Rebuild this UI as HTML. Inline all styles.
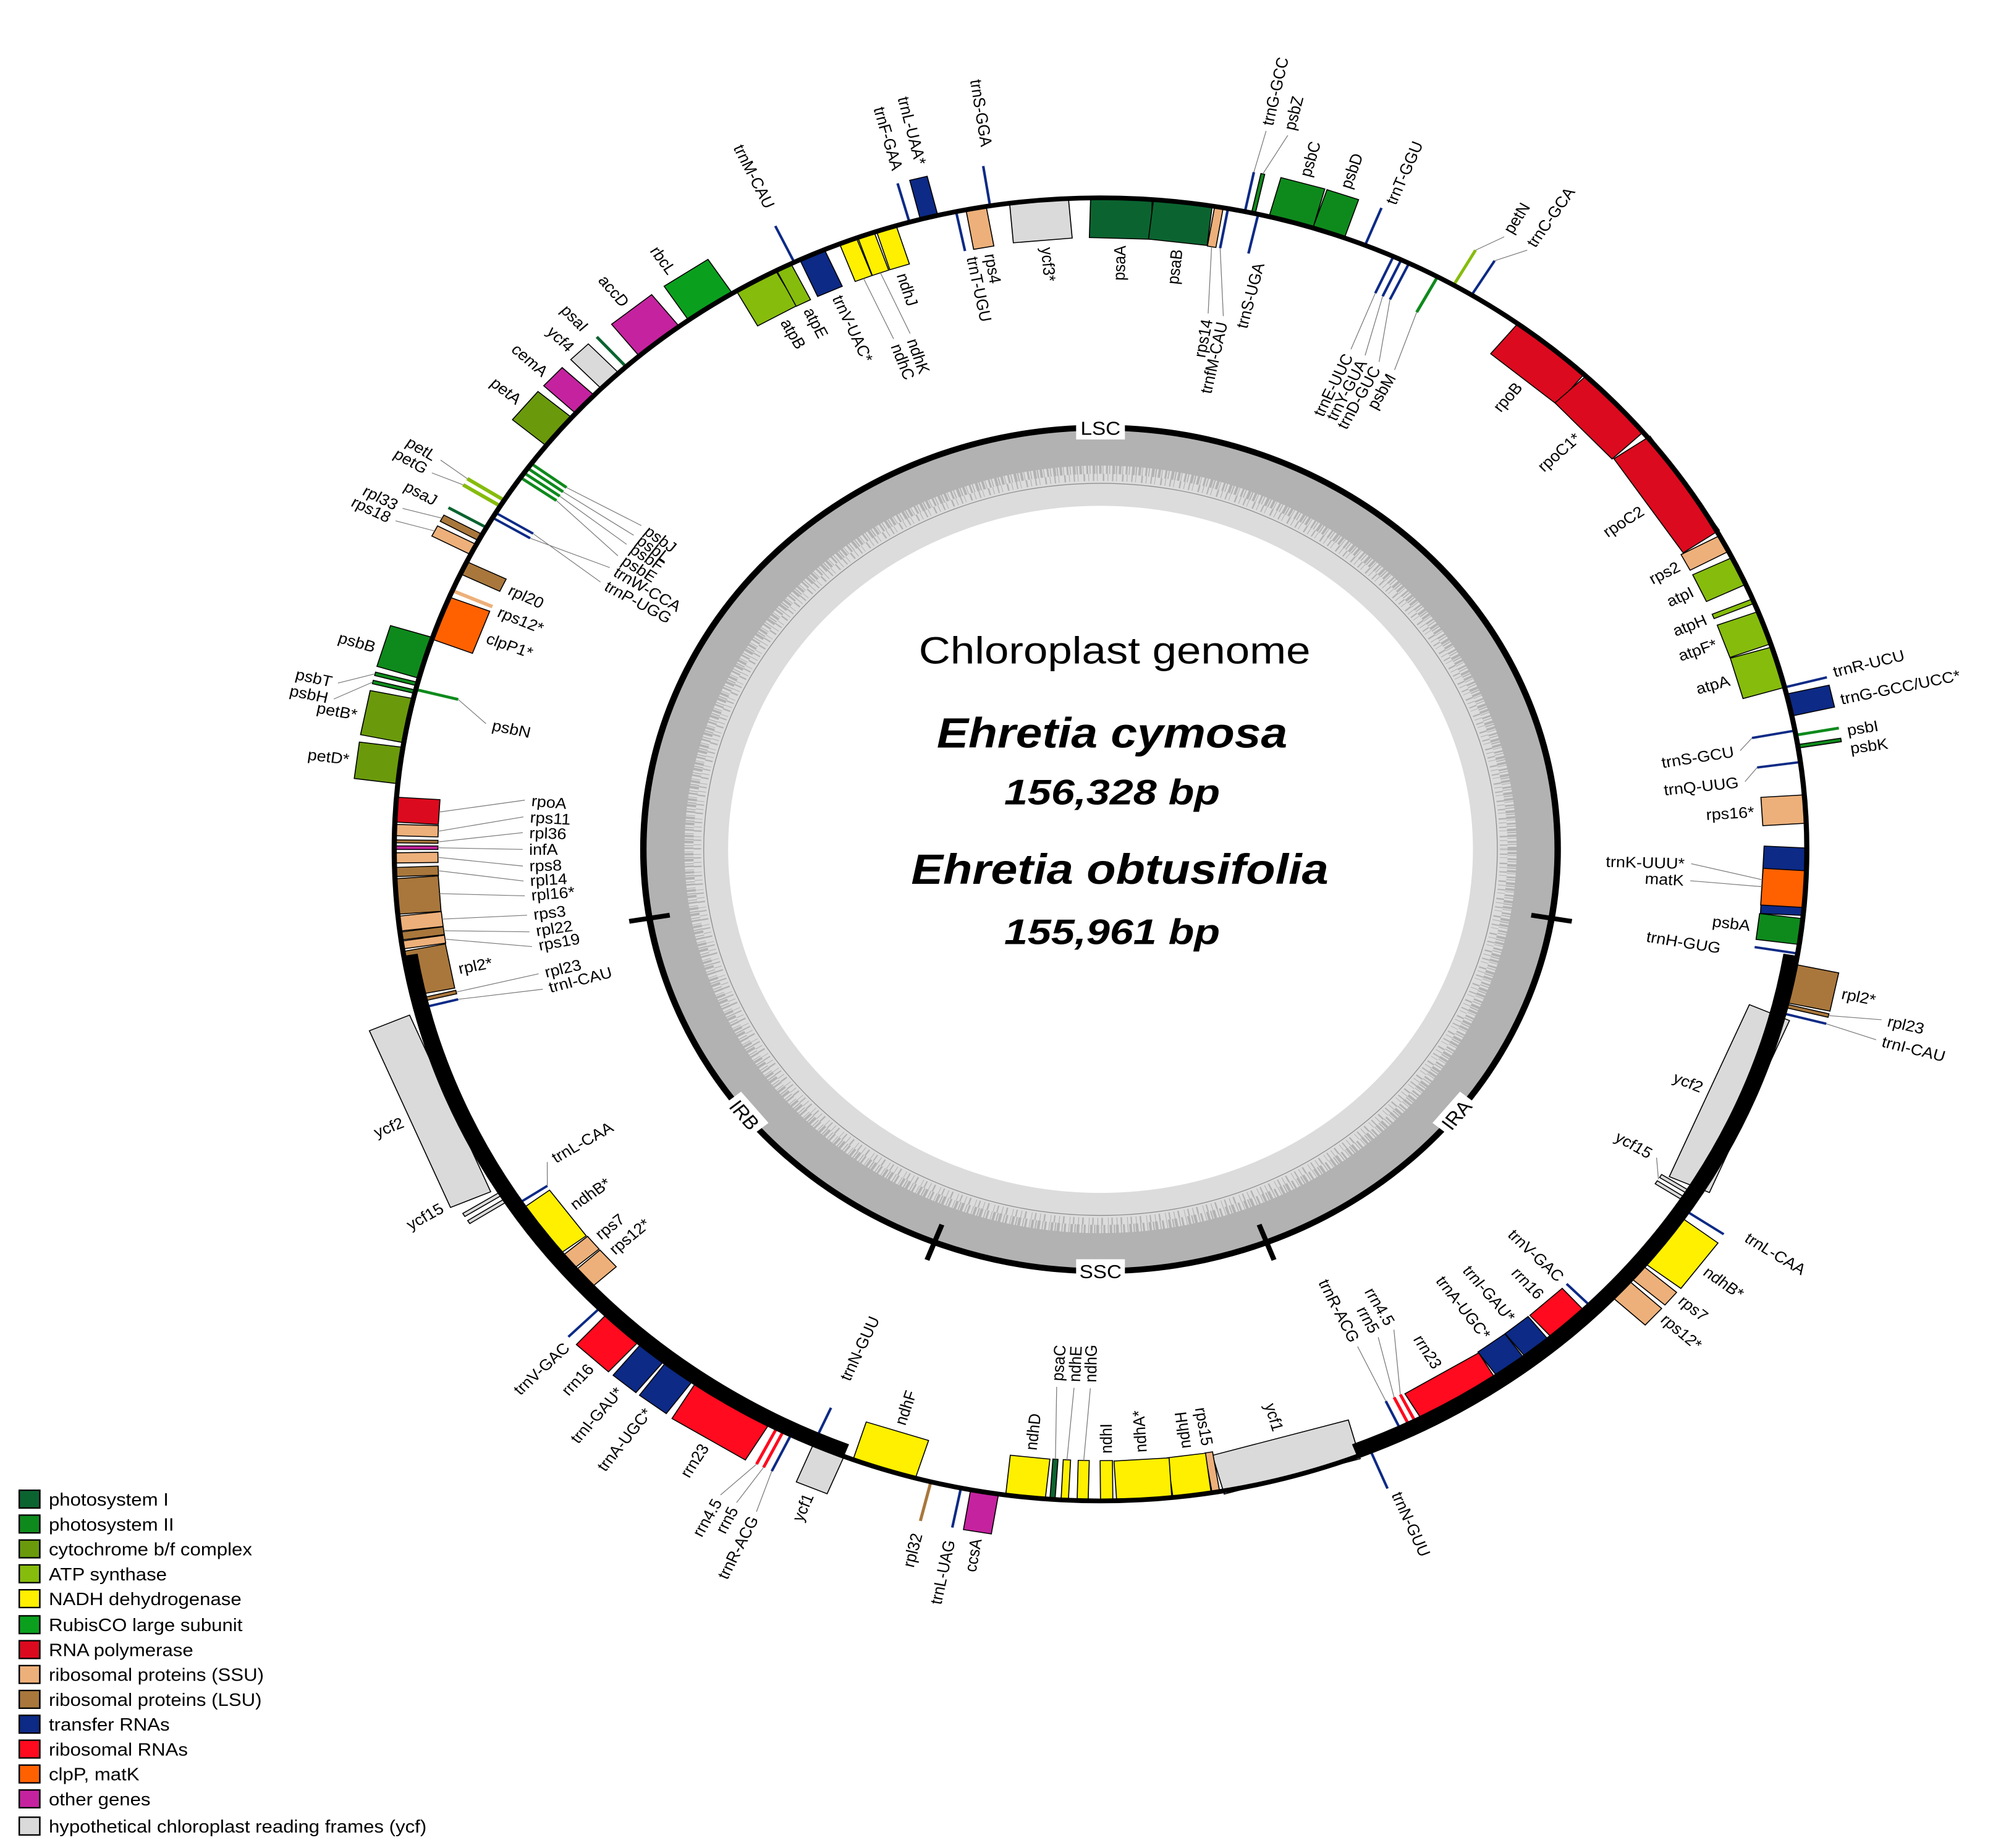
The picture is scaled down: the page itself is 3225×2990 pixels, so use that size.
<!DOCTYPE html>
<html><head><meta charset="utf-8"><style>
html,body{margin:0;padding:0;background:#fff}
svg{display:block}
text{font-family:"Liberation Sans",sans-serif}
.L text{font-size:13px;dominant-baseline:central}
.s{text-anchor:start}.e{text-anchor:end}
.b rect{stroke:#000;stroke-width:.8}
.ld line{stroke:#777;stroke-width:.6}
.p1{fill:#0b6430}.p2{fill:#0e8a1c}.cy{fill:#6a9a0b}.at{fill:#86bc0c}.nd{fill:#fff000}.rb{fill:#0aa01e}
.rp{fill:#dc0a1e}.ss{fill:#edb07a}.ls{fill:#a9773c}.tr{fill:#0c2a86}.rr{fill:#ff0a1e}.cl{fill:#ff6100}.ot{fill:#c5229f}.yc{fill:#dadada}
</style></head><body>
<svg width="3225" height="2990" viewBox="0 0 1552 1560" preserveAspectRatio="none" xmlns="http://www.w3.org/2000/svg">
<rect width="1552" height="1560" fill="#fff"/>
<g transform="translate(857,717)">
<!-- inner GC ring -->
<circle r="323" fill="none" stroke="#dcdcdc" stroke-width="66"/>
<circle r="340" fill="none" stroke="#b2b2b2" stroke-width="32"/>
<circle r="321" fill="none" stroke="#b2b2b2" stroke-width="8" stroke-dasharray="1 1.2 2 0.8 0.6 2 1.5 1 0.8 1.6 2.2 0.7"/>
<circle r="314" fill="none" stroke="#b2b2b2" stroke-width="6" stroke-dasharray="0.6 3 1 2.2 0.5 4 1.2 2.5"/>
<circle r="309" fill="none" stroke="#888" stroke-width="0.6"/>
<circle r="356" fill="none" stroke="#000" stroke-width="5"/>
<g stroke="#000" stroke-width="4">
<line transform="rotate(99.4)" x1="0" y1="-340" x2="0" y2="-372"/>
<line transform="rotate(158.7)" x1="0" y1="-340" x2="0" y2="-372"/>
<line transform="rotate(201.3)" x1="0" y1="-340" x2="0" y2="-372"/>
<line transform="rotate(260.6)" x1="0" y1="-340" x2="0" y2="-372"/>
</g>
</g>
<g font-size="16" text-anchor="middle">
<rect x="838" y="351" width="38" height="20" fill="#fff"/><text x="857" y="367">LSC</text>
<rect x="838" y="1063" width="38" height="20" fill="#fff"/><text x="857" y="1079">SSC</text>
<g transform="translate(1134,941) rotate(-51)"><rect x="-17" y="-10" width="34" height="20" fill="#fff"/><text y="6">IRA</text></g>
<g transform="translate(580,941) rotate(51)"><rect x="-17" y="-10" width="34" height="20" fill="#fff"/><text y="6">IRB</text></g>
</g>
<text x="868" y="560" font-size="32" text-anchor="middle" textLength="305" lengthAdjust="spacingAndGlyphs">Chloroplast genome</text>
<text x="866" y="631" font-size="36" font-weight="bold" font-style="italic" text-anchor="middle" textLength="273" lengthAdjust="spacingAndGlyphs">Ehretia cymosa</text>
<text x="866" y="679" font-size="30" font-weight="bold" font-style="italic" text-anchor="middle" textLength="168" lengthAdjust="spacingAndGlyphs">156,328 bp</text>
<text x="872" y="746" font-size="36" font-weight="bold" font-style="italic" text-anchor="middle" textLength="325" lengthAdjust="spacingAndGlyphs">Ehretia obtusifolia</text>
<text x="866" y="797" font-size="30" font-weight="bold" font-style="italic" text-anchor="middle" textLength="168" lengthAdjust="spacingAndGlyphs">155,961 bp</text>

<g transform="translate(857,717)">
<!-- gene boxes -->
<g class="b">
<rect class="p1" transform="rotate(1.7)" x="-24" y="-550" width="48" height="34"/>
<rect class="p1" transform="rotate(6.7)" x="-23" y="-550" width="46" height="34"/>
<rect class="ss" transform="rotate(9.65)" x="-3.3" y="-550" width="6.7" height="34"/>
<rect class="p2" transform="rotate(12.5)" x="-1.5" y="-584" width="3" height="34"/>
<rect class="p2" transform="rotate(15.65)" x="-17.7" y="-584" width="35.5" height="34"/>
<rect class="p2" transform="rotate(18.85)" x="-13" y="-584" width="26" height="34"/>
<rect class="rp" transform="rotate(39.7)" x="-33.5" y="-550" width="67" height="34"/>
<rect class="rp" transform="rotate(46.8)" x="-32.5" y="-550" width="65" height="34"/>
<rect class="rp" transform="rotate(55.8)" x="-48" y="-550" width="96" height="34"/>
<rect class="ss" transform="rotate(62)" x="-7.5" y="-550" width="15" height="34"/>
<rect class="at" transform="rotate(64.7)" x="-12.5" y="-550" width="25" height="34"/>
<rect class="at" transform="rotate(67.6)" x="-2" y="-550" width="4" height="34"/>
<rect class="at" transform="rotate(70.1)" x="-14.5" y="-550" width="29" height="34"/>
<rect class="at" transform="rotate(73.75)" x="-17.7" y="-550" width="35.5" height="34"/>
<rect class="tr" transform="rotate(77.2)" x="-9.5" y="-584" width="19" height="34"/>
<rect class="p2" transform="rotate(80.9)" x="-1.5" y="-584" width="3" height="34"/>
<rect class="ss" transform="rotate(86.45)" x="-12" y="-550" width="24" height="34"/>
<rect class="tr" transform="rotate(92.85)" x="-28.5" y="-550" width="57" height="34"/>
<rect class="cl" transform="rotate(93.5)" x="-15.5" y="-550" width="31" height="34"/>
<rect class="p2" transform="rotate(97.25)" x="-11" y="-550" width="22" height="34"/>
<rect class="ls" transform="rotate(101.9)" x="-16.5" y="-584" width="33" height="34"/>
<rect class="ls" transform="rotate(103.9)" x="-1.5" y="-584" width="3" height="34"/>
<rect class="yc" transform="rotate(113.25)" x="-79" y="-550" width="158" height="34"/>
<rect class="yc" transform="rotate(122.3)" x="-1.5" y="-550" width="3" height="34"/>
<rect class="yc" transform="rotate(123)" x="-1.5" y="-550" width="3" height="34"/>
<rect class="nd" transform="rotate(127)" x="-24" y="-584" width="48" height="34"/>
<rect class="ss" transform="rotate(130.5)" x="-7" y="-584" width="14" height="34"/>
<rect class="ss" transform="rotate(132.5)" x="-9.5" y="-584" width="19" height="34"/>
<rect class="rr" transform="rotate(137.75)" x="-17" y="-550" width="34" height="34"/>
<rect class="tr" transform="rotate(141.1)" x="-11.5" y="-550" width="23" height="34"/>
<rect class="tr" transform="rotate(143.85)" x="-13" y="-550" width="26" height="34"/>
<rect class="rr" transform="rotate(149)" x="-33.5" y="-550" width="67" height="34"/>
<rect class="yc" transform="rotate(164.25)" x="-55" y="-550" width="110" height="34"/>
<rect class="ss" transform="rotate(170.6)" x="-3" y="-550" width="6" height="34"/>
<rect class="nd" transform="rotate(172.55)" x="-15" y="-550" width="30" height="34"/>
<rect class="nd" transform="rotate(176.45)" x="-21.5" y="-550" width="43" height="34"/>
<rect class="nd" transform="rotate(179.5)" x="-4.8" y="-550" width="9.6" height="34"/>
<rect class="nd" transform="rotate(181.45)" x="-4.3" y="-550" width="8.6" height="34"/>
<rect class="nd" transform="rotate(182.9)" x="-2.8" y="-550" width="5.7" height="34"/>
<rect class="p1" transform="rotate(183.9)" x="-2" y="-550" width="4" height="34"/>
<rect class="nd" transform="rotate(186.1)" x="-15.5" y="-550" width="31" height="34"/>
<rect class="ot" transform="rotate(189.45)" x="-11" y="-584" width="22" height="34"/>
<rect class="nd" transform="rotate(197.85)" x="-25.5" y="-550" width="51" height="34"/>
<rect class="yc" transform="rotate(202.65)" x="-13" y="-584" width="26" height="34"/>
<rect class="rr" transform="rotate(211.5)" x="-33.5" y="-584" width="67" height="34"/>
<rect class="tr" transform="rotate(216.65)" x="-13" y="-584" width="26" height="34"/>
<rect class="tr" transform="rotate(219.4)" x="-11.5" y="-584" width="23" height="34"/>
<rect class="rr" transform="rotate(222.65)" x="-17" y="-584" width="34" height="34"/>
<rect class="ss" transform="rotate(228)" x="-9.5" y="-550" width="19" height="34"/>
<rect class="ss" transform="rotate(229.95)" x="-7" y="-550" width="14" height="34"/>
<rect class="nd" transform="rotate(233.5)" x="-24" y="-550" width="48" height="34"/>
<rect class="yc" transform="rotate(237.4)" x="-1.5" y="-584" width="3" height="34"/>
<rect class="yc" transform="rotate(238.1)" x="-1.5" y="-584" width="3" height="34"/>
<rect class="yc" transform="rotate(247.05)" x="-81" y="-584" width="162" height="34"/>
<rect class="ls" transform="rotate(256.5)" x="-1.5" y="-550" width="3" height="34"/>
<rect class="ls" transform="rotate(259)" x="-19" y="-550" width="38" height="34"/>
<rect class="ss" transform="rotate(261.55)" x="-3.3" y="-550" width="6.7" height="34"/>
<rect class="ls" transform="rotate(262.35)" x="-3.3" y="-550" width="6.7" height="34"/>
<rect class="ss" transform="rotate(263.45)" x="-6.2" y="-550" width="12.5" height="34"/>
<rect class="ls" transform="rotate(265.85)" x="-15" y="-550" width="30" height="34"/>
<rect class="ls" transform="rotate(268)" x="-3.8" y="-550" width="7.7" height="34"/>
<rect class="ss" transform="rotate(269.25)" x="-4.3" y="-550" width="8.6" height="34"/>
<rect class="ot" transform="rotate(270.15)" x="-1.5" y="-550" width="3" height="34"/>
<rect class="ls" transform="rotate(270.7)" x="-1.2" y="-550" width="2.5" height="34"/>
<rect class="ss" transform="rotate(271.7)" x="-4.8" y="-550" width="9.6" height="34"/>
<rect class="rp" transform="rotate(273.5)" x="-10.5" y="-550" width="21" height="34"/>
<rect class="cy" transform="rotate(277.4)" x="-15.5" y="-584" width="31" height="34"/>
<rect class="cy" transform="rotate(281.4)" x="-19" y="-584" width="38" height="34"/>
<rect class="p2" transform="rotate(284)" x="-1.5" y="-584" width="3" height="34"/>
<rect class="p2" transform="rotate(284.7)" x="-1.5" y="-584" width="3" height="34"/>
<rect class="p2" transform="rotate(287.1)" x="-18" y="-584" width="36" height="34"/>
<rect class="cl" transform="rotate(290.8)" x="-19" y="-550" width="38" height="34"/>
<rect class="ls" transform="rotate(295.6)" x="-5.7" y="-550" width="11.5" height="34"/>
<rect class="ss" transform="rotate(297.4)" x="-4.8" y="-584" width="9.6" height="34"/>
<rect class="ls" transform="rotate(298.6)" x="-3" y="-584" width="6" height="34"/>
<rect class="cy" transform="rotate(309.9)" x="-15.5" y="-584" width="31" height="34"/>
<rect class="ot" transform="rotate(313.1)" x="-10.5" y="-584" width="21" height="34"/>
<rect class="yc" transform="rotate(316)" x="-9.5" y="-584" width="19" height="34"/>
<rect class="ot" transform="rotate(321.3)" x="-20" y="-584" width="40" height="34"/>
<rect class="rb" transform="rotate(326.45)" x="-20.5" y="-584" width="41" height="34"/>
<rect class="at" transform="rotate(330.8)" x="-17.5" y="-550" width="35" height="34"/>
<rect class="at" transform="rotate(333.35)" x="-6.2" y="-550" width="12.5" height="34"/>
<rect class="tr" transform="rotate(335.9)" x="-10.5" y="-550" width="21" height="34"/>
<rect class="nd" transform="rotate(339.05)" x="-7" y="-550" width="14" height="34"/>
<rect class="nd" transform="rotate(340.6)" x="-6.7" y="-550" width="13.5" height="34"/>
<rect class="nd" transform="rotate(342.35)" x="-8" y="-550" width="16" height="34"/>
<rect class="tr" transform="rotate(345.95)" x="-7" y="-584" width="14" height="34"/>
<rect class="ss" transform="rotate(349.85)" x="-8" y="-550" width="16" height="34"/>
<rect class="yc" transform="rotate(355)" x="-23" y="-550" width="46" height="34"/>
</g>
<!-- thin line genes -->
<g>
<rect class="tr" transform="rotate(10.4)" x="-1" y="-550" width="2" height="34"/>
<rect class="tr" transform="rotate(12.9)" x="-1" y="-550" width="2" height="34"/>
<rect class="tr" transform="rotate(11.8)" x="-1" y="-584" width="2" height="34"/>
<rect class="tr" transform="rotate(22)" x="-1" y="-584" width="2" height="34"/>
<rect class="tr" transform="rotate(24.5)" x="-1" y="-550" width="2" height="34"/>
<rect class="tr" transform="rotate(25.2)" x="-1" y="-550" width="2" height="34"/>
<rect class="tr" transform="rotate(25.9)" x="-1" y="-550" width="2" height="34"/>
<rect class="p2" transform="rotate(28.5)" x="-1.2" y="-550" width="2.4" height="34"/>
<rect class="at" transform="rotate(30)" x="-1.2" y="-584" width="2.4" height="34"/>
<rect class="tr" transform="rotate(31.7)" x="-1" y="-584" width="2" height="34"/>
<rect class="tr" transform="rotate(75.6)" x="-1" y="-584" width="2" height="34"/>
<rect class="tr" transform="rotate(79.5)" x="-1" y="-550" width="2" height="34"/>
<rect class="p2" transform="rotate(79.9)" x="-1.2" y="-584" width="2.4" height="34"/>
<rect class="tr" transform="rotate(82.3)" x="-1" y="-550" width="2" height="34"/>
<rect class="tr" transform="rotate(99.2)" x="-1" y="-550" width="2" height="34"/>
<rect class="tr" transform="rotate(104.6)" x="-1" y="-584" width="2" height="34"/>
<rect class="tr" transform="rotate(123.8)" x="-1" y="-584" width="2" height="34"/>
<rect class="tr" transform="rotate(135.3)" x="-1" y="-550" width="2" height="34"/>
<rect class="rr" transform="rotate(153.1)" x="-1.2" y="-550" width="2.4" height="34"/>
<rect class="rr" transform="rotate(153.7)" x="-1.2" y="-550" width="2.4" height="34"/>
<rect class="tr" transform="rotate(154.5)" x="-1" y="-550" width="2" height="34"/>
<rect class="tr" transform="rotate(157.5)" x="-1" y="-584" width="2" height="34"/>
<rect class="tr" transform="rotate(191.4)" x="-1" y="-584" width="2" height="34"/>
<rect class="ls" transform="rotate(193.9)" x="-1.2" y="-584" width="2.4" height="34"/>
<rect class="tr" transform="rotate(204)" x="-1" y="-550" width="2" height="34"/>
<rect class="tr" transform="rotate(206)" x="-1" y="-584" width="2" height="34"/>
<rect class="rr" transform="rotate(206.7)" x="-1.2" y="-584" width="2.4" height="34"/>
<rect class="rr" transform="rotate(207.3)" x="-1.2" y="-584" width="2.4" height="34"/>
<rect class="tr" transform="rotate(225.2)" x="-1" y="-584" width="2" height="34"/>
<rect class="tr" transform="rotate(236.6)" x="-1" y="-550" width="2" height="34"/>
<rect class="tr" transform="rotate(255.8)" x="-1" y="-550" width="2" height="34"/>
<rect class="p2" transform="rotate(284.2)" x="-1.2" y="-550" width="2.4" height="34"/>
<rect class="ss" transform="rotate(293.4)" x="-1.5" y="-550" width="3" height="34"/>
<rect class="p1" transform="rotate(299.6)" x="-1.2" y="-584" width="2.4" height="34"/>
<rect class="tr" transform="rotate(300.6)" x="-1" y="-550" width="2" height="34"/>
<rect class="tr" transform="rotate(301.1)" x="-1" y="-550" width="2" height="34"/>
<rect class="at" transform="rotate(301.8)" x="-1.5" y="-584" width="3" height="34"/>
<rect class="at" transform="rotate(302.4)" x="-1.5" y="-584" width="3" height="34"/>
<rect class="p2" transform="rotate(304.8)" x="-1.2" y="-550" width="2.4" height="34"/>
<rect class="p2" transform="rotate(305.3)" x="-1.2" y="-550" width="2.4" height="34"/>
<rect class="p2" transform="rotate(305.8)" x="-1.2" y="-550" width="2.4" height="34"/>
<rect class="p2" transform="rotate(306.3)" x="-1.2" y="-550" width="2.4" height="34"/>
<rect class="p1" transform="rotate(317.8)" x="-1.2" y="-584" width="2.4" height="34"/>
<rect class="tr" transform="rotate(334.3)" x="-1" y="-584" width="2" height="34"/>
<rect class="tr" transform="rotate(344.3)" x="-1" y="-584" width="2" height="34"/>
<rect class="tr" transform="rotate(348.2)" x="-1" y="-550" width="2" height="34"/>
<rect class="tr" transform="rotate(351)" x="-1" y="-584" width="2" height="34"/>
</g>
<!-- leaders -->
<g class="ld">
<line transform="rotate(9.65)" x1="0" y1="-516" x2="6.8" y2="-460"/>
<line transform="rotate(10.4)" x1="0" y1="-516" x2="12.8" y2="-460"/>
<line transform="rotate(11.8)" x1="0" y1="-584" x2="2.2" y2="-620"/>
<line transform="rotate(12.5)" x1="0" y1="-584" x2="11.9" y2="-620"/>
<line transform="rotate(24.5)" x1="0" y1="-516" x2="2.4" y2="-465"/>
<line transform="rotate(25.2)" x1="0" y1="-516" x2="8.9" y2="-465"/>
<line transform="rotate(25.9)" x1="0" y1="-516" x2="15.4" y2="-465"/>
<line transform="rotate(28.5)" x1="0" y1="-516" x2="8.1" y2="-465"/>
<line transform="rotate(30)" x1="0" y1="-584" x2="13.7" y2="-605"/>
<line transform="rotate(31.7)" x1="0" y1="-584" x2="16.9" y2="-605"/>
<line transform="rotate(79.5)" x1="0" y1="-516" x2="8.8" y2="-505"/>
<line transform="rotate(82.3)" x1="0" y1="-516" x2="10.6" y2="-505"/>
<line transform="rotate(92.85)" x1="0" y1="-516" x2="-10.8" y2="-460"/>
<line transform="rotate(93.5)" x1="0" y1="-516" x2="-1.6" y2="-460"/>
<line transform="rotate(103.9)" x1="0" y1="-584" x2="-6.5" y2="-625"/>
<line transform="rotate(104.6)" x1="0" y1="-584" x2="3.3" y2="-625"/>
<line transform="rotate(122.65)" x1="0" y1="-516" x2="-14.5" y2="-505"/>
<line transform="rotate(153.1)" x1="0" y1="-516" x2="-20.3" y2="-465"/>
<line transform="rotate(153.7)" x1="0" y1="-516" x2="-11.4" y2="-465"/>
<line transform="rotate(154.5)" x1="0" y1="-516" x2="0" y2="-465"/>
<line transform="rotate(181.45)" x1="0" y1="-516" x2="-3.6" y2="-455"/>
<line transform="rotate(182.9)" x1="0" y1="-516" x2="-2.4" y2="-455"/>
<line transform="rotate(183.9)" x1="0" y1="-516" x2="3.2" y2="-455"/>
<line transform="rotate(206)" x1="0" y1="-584" x2="-4.3" y2="-620"/>
<line transform="rotate(206.7)" x1="0" y1="-584" x2="5.4" y2="-620"/>
<line transform="rotate(207.3)" x1="0" y1="-584" x2="13" y2="-620"/>
<line transform="rotate(236.6)" x1="0" y1="-516" x2="16.8" y2="-505"/>
<line transform="rotate(255.8)" x1="0" y1="-516" x2="-7.9" y2="-450"/>
<line transform="rotate(256.5)" x1="0" y1="-516" x2="0" y2="-450"/>
<line transform="rotate(261.55)" x1="0" y1="-516" x2="-16.1" y2="-450"/>
<line transform="rotate(262.35)" x1="0" y1="-516" x2="-9.8" y2="-450"/>
<line transform="rotate(263.45)" x1="0" y1="-516" x2="-4.3" y2="-450"/>
<line transform="rotate(265.85)" x1="0" y1="-516" x2="-6.7" y2="-450"/>
<line transform="rotate(268)" x1="0" y1="-516" x2="-11" y2="-450"/>
<line transform="rotate(269.25)" x1="0" y1="-516" x2="-8.2" y2="-450"/>
<line transform="rotate(270.15)" x1="0" y1="-516" x2="-1.2" y2="-450"/>
<line transform="rotate(270.7)" x1="0" y1="-516" x2="8.6" y2="-450"/>
<line transform="rotate(271.7)" x1="0" y1="-516" x2="14.1" y2="-450"/>
<line transform="rotate(273.5)" x1="0" y1="-516" x2="14.1" y2="-450"/>
<line transform="rotate(284)" x1="0" y1="-584" x2="-21.3" y2="-610"/>
<line transform="rotate(284.7)" x1="0" y1="-584" x2="-14.9" y2="-610"/>
<line transform="rotate(284.2)" x1="0" y1="-516" x2="-14.5" y2="-490"/>
<line transform="rotate(297.4)" x1="0" y1="-584" x2="-6.4" y2="-615"/>
<line transform="rotate(298.6)" x1="0" y1="-584" x2="-7.5" y2="-615"/>
<line transform="rotate(300.6)" x1="0" y1="-516" x2="10.2" y2="-450"/>
<line transform="rotate(301.1)" x1="0" y1="-516" x2="-7.9" y2="-450"/>
<line transform="rotate(301.8)" x1="0" y1="-584" x2="-4.3" y2="-610"/>
<line transform="rotate(302.4)" x1="0" y1="-584" x2="2.1" y2="-610"/>
<line transform="rotate(304.8)" x1="0" y1="-516" x2="-11" y2="-450"/>
<line transform="rotate(305.3)" x1="0" y1="-516" x2="-3.1" y2="-450"/>
<line transform="rotate(305.8)" x1="0" y1="-516" x2="2.4" y2="-450"/>
<line transform="rotate(306.3)" x1="0" y1="-516" x2="8.6" y2="-450"/>
<line transform="rotate(339.05)" x1="0" y1="-516" x2="3.6" y2="-460"/>
<line transform="rotate(340.6)" x1="0" y1="-516" x2="4.8" y2="-460"/>
</g>
<!-- outer ring -->
<circle r="550" fill="none" stroke="#000" stroke-width="4"/>
<path d="M537.7,89 A545,545 0 0 1 198,507.8 M-198,507.8 A545,545 0 0 1 -537.7,89" fill="none" stroke="#000" stroke-width="12"/>

<!-- labels -->
<g class="L">
<!-- right rule: rotate(-90); out=start, in=end -->
<text class="e" transform="rotate(1.7) translate(0,-510) rotate(-90)">psaA</text>
<text class="e" transform="rotate(6.7) translate(0,-510) rotate(-90)">psaB</text>
<text class="e" transform="rotate(10.5) translate(0,-455) rotate(-90)">rps14</text>
<text class="e" transform="rotate(12) translate(0,-455) rotate(-90)">trnfM-CAU</text>
<text class="e" transform="rotate(14) translate(0,-510) rotate(-90)">trnS-UGA</text>
<text class="s" transform="rotate(12) translate(0,-625) rotate(-90)">trnG-GCC</text>
<text class="s" transform="rotate(13.6) translate(0,-625) rotate(-90)">psbZ</text>
<text class="s" transform="rotate(15.65) translate(0,-590) rotate(-90)">psbC</text>
<text class="s" transform="rotate(18.85) translate(0,-590) rotate(-90)">psbD</text>
<text class="s" transform="rotate(22.5) translate(0,-590) rotate(-90)">trnT-GGU</text>
<text class="e" transform="rotate(24.8) translate(0,-460) rotate(-90)">trnE-UUC</text>
<text class="e" transform="rotate(26.3) translate(0,-460) rotate(-90)">trnY-GUA</text>
<text class="e" transform="rotate(27.8) translate(0,-460) rotate(-90)">trnD-GUC</text>
<text class="e" transform="rotate(29.5) translate(0,-460) rotate(-90)">psbM</text>
<text class="s" transform="rotate(31.3) translate(0,-610) rotate(-90)">petN</text>
<text class="s" transform="rotate(33.3) translate(0,-610) rotate(-90)">trnC-GCA</text>
<text class="e" transform="rotate(39.7) translate(0,-510) rotate(-90)">rpoB</text>
<text class="e" transform="rotate(46.8) translate(0,-510) rotate(-90)">rpoC1*</text>
<text class="e" transform="rotate(55.8) translate(0,-510) rotate(-90)">rpoC2</text>
<text class="e" transform="rotate(62) translate(0,-510) rotate(-90)">rps2</text>
<text class="e" transform="rotate(64.7) translate(0,-510) rotate(-90)">atpI</text>
<text class="e" transform="rotate(67.6) translate(0,-510) rotate(-90)">atpH</text>
<text class="e" transform="rotate(70.1) translate(0,-510) rotate(-90)">atpF*</text>
<text class="e" transform="rotate(73.75) translate(0,-510) rotate(-90)">atpA</text>
<text class="s" transform="rotate(75.3) translate(0,-590) rotate(-90)">trnR-UCU</text>
<text class="s" transform="rotate(77.6) translate(0,-590) rotate(-90)">trnG-GCC/UCC*</text>
<text class="s" transform="rotate(80.2) translate(0,-590) rotate(-90)">psbI</text>
<text class="s" transform="rotate(81.7) translate(0,-590) rotate(-90)">psbK</text>
<text class="e" transform="rotate(80.5) translate(0,-500) rotate(-90)">trnS-GCU</text>
<text class="e" transform="rotate(83.5) translate(0,-500) rotate(-90)">trnQ-UUG</text>
<text class="e" transform="rotate(86.45) translate(0,-510) rotate(-90)">rps16*</text>
<text class="e" transform="rotate(91.5) translate(0,-455) rotate(-90)">trnK-UUU*</text>
<text class="e" transform="rotate(93.3) translate(0,-455) rotate(-90)">matK</text>
<text class="e" transform="rotate(97.25) translate(0,-510) rotate(-90)">psbA</text>
<text class="e" transform="rotate(99.8) translate(0,-490) rotate(-90)">trnH-GUG</text>
<text class="s" transform="rotate(101.9) translate(0,-590) rotate(-90)">rpl2*</text>
<text class="s" transform="rotate(103.3) translate(0,-630) rotate(-90)">rpl23</text>
<text class="s" transform="rotate(104.9) translate(0,-630) rotate(-90)">trnI-CAU</text>
<text class="e" transform="rotate(113.25) translate(0,-510) rotate(-90)">ycf2</text>
<text class="e" transform="rotate(121) translate(0,-500) rotate(-90)">ycf15</text>
<text class="s" transform="rotate(123) translate(0,-600) rotate(-90)">trnL-CAA</text>
<text class="s" transform="rotate(127) translate(0,-590) rotate(-90)">ndhB*</text>
<text class="s" transform="rotate(130) translate(0,-590) rotate(-90)">rps7</text>
<text class="s" transform="rotate(132) translate(0,-590) rotate(-90)">rps12*</text>
<text class="e" transform="rotate(135.3) translate(0,-510) rotate(-90)">trnV-GAC</text>
<text class="e" transform="rotate(137.75) translate(0,-510) rotate(-90)">rrn16</text>
<text class="e" transform="rotate(141.1) translate(0,-510) rotate(-90)">trnI-GAU*</text>
<text class="e" transform="rotate(143.85) translate(0,-510) rotate(-90)">trnA-UGC*</text>
<text class="e" transform="rotate(149) translate(0,-510) rotate(-90)">rrn23</text>
<text class="e" transform="rotate(150.6) translate(0,-460) rotate(-90)">rrn4.5</text>
<text class="e" transform="rotate(152.3) translate(0,-460) rotate(-90)">rrn5</text>
<text class="e" transform="rotate(154.5) translate(0,-460) rotate(-90)">trnR-ACG</text>
<text class="s" transform="rotate(157) translate(0,-590) rotate(-90)">trnN-GUU</text>
<text class="e" transform="rotate(164.25) translate(0,-510) rotate(-90)">ycf1</text>
<text class="e" transform="rotate(170.6) translate(0,-510) rotate(-90)">rps15</text>
<!-- left rule: rotate(90); out=end, in=start -->
<text class="s" transform="rotate(172.55) translate(0,-510) rotate(90)">ndhH</text>
<text class="s" transform="rotate(176.45) translate(0,-510) rotate(90)">ndhA*</text>
<text class="s" transform="rotate(179.5) translate(0,-510) rotate(90)">ndhI</text>
<text class="s" transform="rotate(181) translate(0,-450) rotate(90)">ndhG</text>
<text class="s" transform="rotate(182.6) translate(0,-450) rotate(90)">ndhE</text>
<text class="s" transform="rotate(184.3) translate(0,-450) rotate(90)">psaC</text>
<text class="s" transform="rotate(186.1) translate(0,-510) rotate(90)">ndhD</text>
<text class="e" transform="rotate(189.45) translate(0,-590) rotate(90)">ccsA</text>
<text class="e" transform="rotate(191.4) translate(0,-595) rotate(90)">trnL-UAG</text>
<text class="e" transform="rotate(193.9) translate(0,-595) rotate(90)">rpl32</text>
<text class="s" transform="rotate(197.85) translate(0,-510) rotate(90)">ndhF</text>
<text class="e" transform="rotate(202.65) translate(0,-590) rotate(90)">ycf1</text>
<text class="s" transform="rotate(204) translate(0,-490) rotate(90)">trnN-GUU</text>
<text class="e" transform="rotate(205.6) translate(0,-625) rotate(90)">trnR-ACG</text>
<text class="e" transform="rotate(207.2) translate(0,-625) rotate(90)">rrn5</text>
<text class="e" transform="rotate(208.5) translate(0,-625) rotate(90)">rrn4.5</text>
<text class="e" transform="rotate(211.5) translate(0,-590) rotate(90)">rrn23</text>
<text class="e" transform="rotate(216.65) translate(0,-590) rotate(90)">trnA-UGC*</text>
<text class="e" transform="rotate(219.4) translate(0,-590) rotate(90)">trnI-GAU*</text>
<text class="e" transform="rotate(222.3) translate(0,-590) rotate(90)">rrn16</text>
<text class="e" transform="rotate(224.8) translate(0,-590) rotate(90)">trnV-GAC</text>
<text class="s" transform="rotate(228.3) translate(0,-510) rotate(90)">rps12*</text>
<text class="s" transform="rotate(230.2) translate(0,-510) rotate(90)">rps7</text>
<text class="s" transform="rotate(233.8) translate(0,-510) rotate(90)">ndhB*</text>
<text class="s" transform="rotate(238.5) translate(0,-500) rotate(90)">trnL-CAA</text>
<text class="e" transform="rotate(239.5) translate(0,-595) rotate(90)">ycf15</text>
<text class="e" transform="rotate(247.05) translate(0,-590) rotate(90)">ycf2</text>
<text class="s" transform="rotate(254.8) translate(0,-445) rotate(90)">trnI-CAU</text>
<text class="s" transform="rotate(256.5) translate(0,-445) rotate(90)">rpl23</text>
<text class="s" transform="rotate(258.6) translate(0,-510) rotate(90)">rpl2*</text>
<text class="s" transform="rotate(259.5) translate(0,-445) rotate(90)">rps19</text>
<text class="s" transform="rotate(261.1) translate(0,-445) rotate(90)">rpl22</text>
<text class="s" transform="rotate(262.9) translate(0,-445) rotate(90)">rps3</text>
<text class="s" transform="rotate(265) translate(0,-445) rotate(90)">rpl16*</text>
<text class="s" transform="rotate(266.6) translate(0,-445) rotate(90)">rpl14</text>
<text class="s" transform="rotate(268.2) translate(0,-445) rotate(90)">rps8</text>
<text class="s" transform="rotate(270) translate(0,-445) rotate(90)">infA</text>
<text class="s" transform="rotate(271.8) translate(0,-445) rotate(90)">rpl36</text>
<text class="s" transform="rotate(273.5) translate(0,-445) rotate(90)">rps11</text>
<text class="s" transform="rotate(275.3) translate(0,-445) rotate(90)">rpoA</text>
<text class="e" transform="rotate(277.4) translate(0,-590) rotate(90)">petD*</text>
<text class="e" transform="rotate(281.1) translate(0,-590) rotate(90)">petB*</text>
<text class="e" transform="rotate(282) translate(0,-615) rotate(90)">psbH</text>
<text class="e" transform="rotate(283.3) translate(0,-615) rotate(90)">psbT</text>
<text class="s" transform="rotate(282.5) translate(0,-485) rotate(90)">psbN</text>
<text class="e" transform="rotate(286.8) translate(0,-590) rotate(90)">psbB</text>
<text class="s" transform="rotate(290.5) translate(0,-510) rotate(90)">clpP1*</text>
<text class="s" transform="rotate(293.2) translate(0,-510) rotate(90)">rps12*</text>
<text class="s" transform="rotate(295.5) translate(0,-510) rotate(90)">rpl20</text>
<text class="e" transform="rotate(296.8) translate(0,-620) rotate(90)">rps18</text>
<text class="e" transform="rotate(297.9) translate(0,-620) rotate(90)">rpl33</text>
<text class="e" transform="rotate(299.6) translate(0,-595) rotate(90)">psaJ</text>
<text class="s" transform="rotate(300.1) translate(0,-445) rotate(90)">trnP-UGG</text>
<text class="s" transform="rotate(301.9) translate(0,-445) rotate(90)">trnW-CCA</text>
<text class="e" transform="rotate(301.4) translate(0,-615) rotate(90)">petG</text>
<text class="e" transform="rotate(302.6) translate(0,-615) rotate(90)">petL</text>
<text class="s" transform="rotate(303.4) translate(0,-445) rotate(90)">psbE</text>
<text class="s" transform="rotate(304.9) translate(0,-445) rotate(90)">psbF</text>
<text class="s" transform="rotate(306.1) translate(0,-445) rotate(90)">psbL</text>
<text class="s" transform="rotate(307.4) translate(0,-445) rotate(90)">psbJ</text>
<text class="e" transform="rotate(309.9) translate(0,-590) rotate(90)">petA</text>
<text class="e" transform="rotate(312.9) translate(0,-590) rotate(90)">cemA</text>
<text class="e" transform="rotate(315.7) translate(0,-590) rotate(90)">ycf4</text>
<text class="e" transform="rotate(317.6) translate(0,-595) rotate(90)">psaI</text>
<text class="e" transform="rotate(321.2) translate(0,-590) rotate(90)">accD</text>
<text class="e" transform="rotate(325.6) translate(0,-590) rotate(90)">rbcL</text>
<text class="s" transform="rotate(331.2) translate(0,-510) rotate(90)">atpB</text>
<text class="s" transform="rotate(333.5) translate(0,-510) rotate(90)">atpE</text>
<text class="e" transform="rotate(334.6) translate(0,-600) rotate(90)">trnM-CAU</text>
<text class="s" transform="rotate(336.3) translate(0,-510) rotate(90)">trnV-UAC*</text>
<text class="s" transform="rotate(339.5) translate(0,-455) rotate(90)">ndhC</text>
<text class="s" transform="rotate(341.2) translate(0,-455) rotate(90)">ndhK</text>
<text class="s" transform="rotate(342.35) translate(0,-510) rotate(90)">ndhJ</text>
<text class="e" transform="rotate(344.6) translate(0,-595) rotate(90)">trnF-GAA</text>
<text class="e" transform="rotate(346.4) translate(0,-595) rotate(90)">trnL-UAA*</text>
<text class="s" transform="rotate(348.7) translate(0,-510) rotate(90)">trnT-UGU</text>
<text class="s" transform="rotate(350.3) translate(0,-510) rotate(90)">rps4</text>
<text class="e" transform="rotate(351.5) translate(0,-600) rotate(90)">trnS-GGA</text>
<text class="s" transform="rotate(355.3) translate(0,-510) rotate(90)">ycf3*</text>
</g>
</g>

<!-- legend -->
<g stroke="#000" stroke-width="1.2">
<rect class="p1" x="15" y="1258" width="16" height="15"/>
<rect class="p2" x="15" y="1279" width="16" height="15"/>
<rect class="cy" x="15" y="1300" width="16" height="15"/>
<rect class="at" x="15" y="1321" width="16" height="15"/>
<rect class="nd" x="15" y="1342" width="16" height="15"/>
<rect class="rb" x="15" y="1364" width="16" height="15"/>
<rect class="rp" x="15" y="1385" width="16" height="15"/>
<rect class="ss" x="15" y="1406" width="16" height="15"/>
<rect class="ls" x="15" y="1427" width="16" height="15"/>
<rect class="tr" x="15" y="1448" width="16" height="15"/>
<rect class="rr" x="15" y="1469" width="16" height="15"/>
<rect class="cl" x="15" y="1490" width="16" height="15"/>
<rect class="ot" x="15" y="1511" width="16" height="15"/>
<rect class="yc" x="15" y="1534" width="16" height="15"/>
</g>
<g font-size="15">
<text x="38" y="1271">photosystem I</text>
<text x="38" y="1292">photosystem II</text>
<text x="38" y="1313">cytochrome b/f complex</text>
<text x="38" y="1334">ATP synthase</text>
<text x="38" y="1355">NADH dehydrogenase</text>
<text x="38" y="1377">RubisCO large subunit</text>
<text x="38" y="1398">RNA polymerase</text>
<text x="38" y="1419">ribosomal proteins (SSU)</text>
<text x="38" y="1440">ribosomal proteins (LSU)</text>
<text x="38" y="1461">transfer RNAs</text>
<text x="38" y="1482">ribosomal RNAs</text>
<text x="38" y="1503">clpP, matK</text>
<text x="38" y="1524">other genes</text>
<text x="38" y="1547">hypothetical chloroplast reading frames (ycf)</text>
</g>
</svg>
</body></html>
